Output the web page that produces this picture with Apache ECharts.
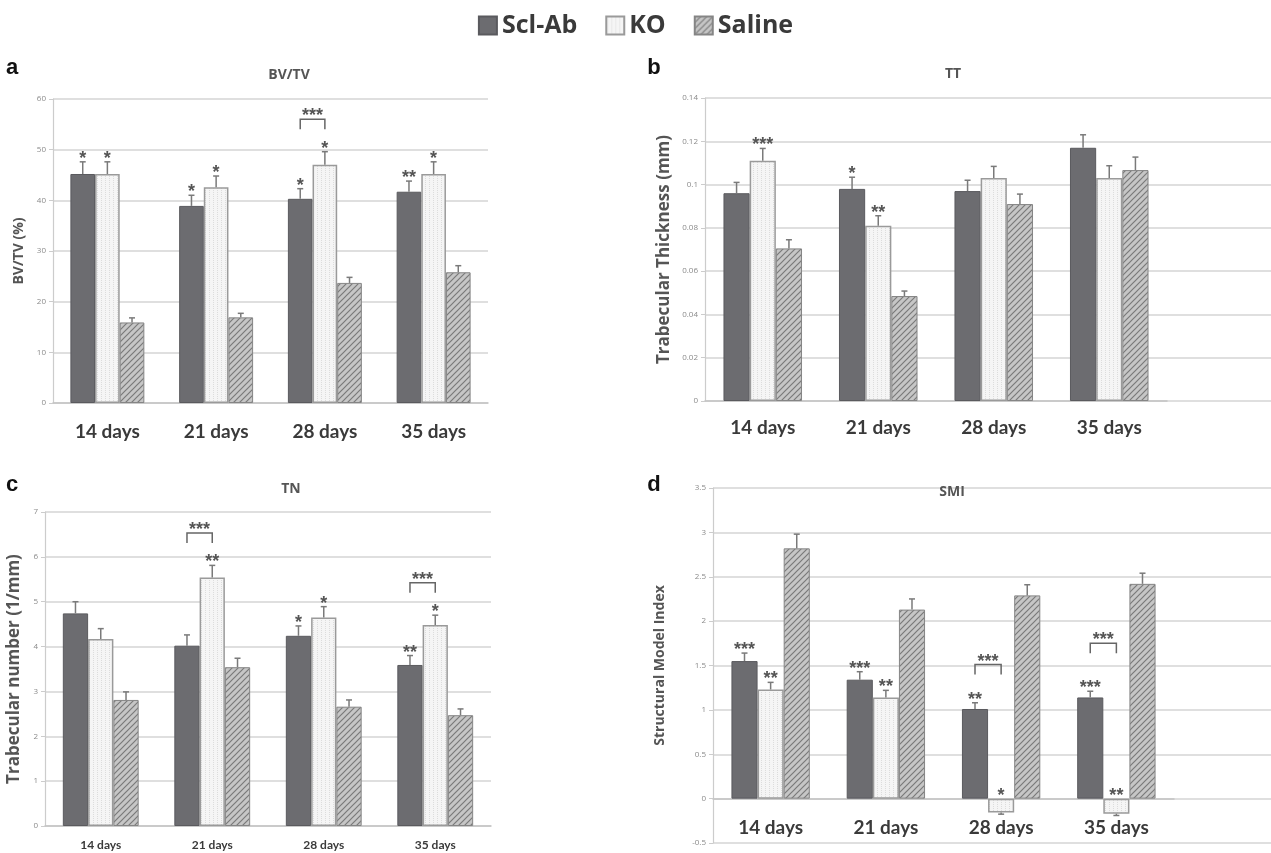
<!DOCTYPE html>
<html>
<head>
<meta charset="utf-8">
<script src="https://cdn.jsdelivr.net/npm/echarts@6/dist/echarts.min.js"></script>
<style>html,body{margin:0;padding:0;background:#fff}#c{width:1271px;height:853px}</style>
</head>
<body>
<div id="c"></div>
<script>
// ---------- DATA ----------
const categories = ['14 days', '21 days', '28 days', '35 days'];
const seriesNames = ['Scl-Ab', 'KO', 'Saline'];

// (a) BV/TV (%)
const bvtvScl = [45.2, 38.9, 40.3, 41.7];
const bvtvKO = [45.2, 42.6, 47.0, 45.2];
const bvtvSal = [15.9, 16.9, 23.7, 25.8];
const bvtvSclErr = [2.4, 2.1, 2.0, 2.1];
const bvtvKOErr = [2.4, 2.2, 2.6, 2.4];
const bvtvSalErr = [0.9, 0.8, 1.1, 1.3];
const bvtvSclSig = ['*', '*', '*', '**'];
const bvtvKOSig = ['*', '*', '*', '*'];
const bvtvBracketCat = [2];
const bvtvBracketTop = [56];

// (b) TT (mm)
const ttScl = [0.096, 0.098, 0.097, 0.117];
const ttKO = [0.111, 0.081, 0.103, 0.103];
const ttSal = [0.0705, 0.0485, 0.091, 0.1067];
const ttSclErr = [0.005, 0.0054, 0.005, 0.006];
const ttKOErr = [0.0057, 0.0046, 0.0054, 0.0057];
const ttSalErr = [0.004, 0.0023, 0.0046, 0.006];
const ttSclSig = ['', '*', '', ''];
const ttKOSig = ['***', '**', '', ''];
const ttBracketCat = [];
const ttBracketTop = [];

// (c) TN (1/mm)
const tnScl = [4.74, 4.02, 4.24, 3.59];
const tnKO = [4.17, 5.54, 4.65, 4.48];
const tnSal = [2.81, 3.54, 2.66, 2.47];
const tnSclErr = [0.26, 0.24, 0.22, 0.21];
const tnKOErr = [0.23, 0.27, 0.24, 0.22];
const tnSalErr = [0.18, 0.2, 0.15, 0.14];
const tnSclSig = ['', '', '*', '**'];
const tnKOSig = ['', '**', '*', '*'];
const tnBracketCat = [1, 3];
const tnBracketTop = [6.53, 5.42];

// (d) SMI
const smiScl = [1.55, 1.34, 1.01, 1.14];
const smiKO = [1.23, 1.14, -0.155, -0.17];
const smiSal = [2.82, 2.13, 2.29, 2.42];
const smiSclErr = [0.09, 0.09, 0.07, 0.07];
const smiKOErr = [0.08, 0.08, 0.02, 0.02];
const smiSalErr = [0.16, 0.12, 0.12, 0.12];
const smiSclSig = ['***', '***', '**', '***'];
const smiKOSig = ['**', '**', '*', '**'];
const smiBracketCat = [2, 3];
const smiBracketTop = [1.51, 1.75];

const bracketLabel = '***';

// ---------- STYLE ----------
const GAP = 0.32;
function hatchCanvas() {
  const c = document.createElement('canvas'); c.width = 6; c.height = 6;
  const g = c.getContext('2d');
  g.fillStyle = '#c6c6c6'; g.fillRect(0, 0, 6, 6);
  g.strokeStyle = '#7a7a7a'; g.lineWidth = 1.2;
  g.beginPath();
  g.moveTo(0, 6); g.lineTo(6, 0);
  g.moveTo(-1, 1); g.lineTo(1, -1);
  g.moveTo(5, 7); g.lineTo(7, 5);
  g.stroke();
  return c;
}
function dotCanvas() {
  const c = document.createElement('canvas'); c.width = 4; c.height = 4;
  const g = c.getContext('2d');
  g.fillStyle = '#f5f5f5'; g.fillRect(0, 0, 4, 4);
  g.fillStyle = '#dcdcdc'; g.fillRect(1, 0, 1, 1); g.fillRect(1, 2, 1, 1);
  return c;
}
const styles = [
  { color: '#6c6c70', borderColor: '#5a5a5e', borderWidth: 1 },
  { color: { image: dotCanvas(), repeat: 'repeat' }, borderColor: '#9a9a9a', borderWidth: 1.5 },
  { color: { image: hatchCanvas(), repeat: 'repeat' }, borderColor: '#858585', borderWidth: 1 }
];
const catFont = 'Lato';
const gridColor = '#d4d4d4';

const panels = [
  { vals: [bvtvScl, bvtvKO, bvtvSal], errs: [bvtvSclErr, bvtvKOErr, bvtvSalErr], sigs: [bvtvSclSig, bvtvKOSig, []],
    bc: bvtvBracketCat, bt: bvtvBracketTop,
    grid: { left: 53, top: 99, width: 435, height: 304 }, bg: null,
    y: { min: 0, max: 60, interval: 10 }, yName: 'BV/TV (%)', yNameSize: 14, yNameGap: 27,
    catSize: 19, catMargin: 19, labelsAtZero: false },
  { vals: [ttScl, ttKO, ttSal], errs: [ttSclErr, ttKOErr, ttSalErr], sigs: [ttSclSig, ttKOSig, []],
    bc: ttBracketCat, bt: ttBracketTop,
    grid: { left: 705, top: 98, width: 462, height: 303 }, bg: { left: 705, top: 98, width: 566, height: 303 },
    y: { min: 0, max: 0.14, interval: 0.02 }, yName: 'Trabecular Thickness (mm)', yNameSize: 17, yNameGap: 32,
    catSize: 19, catMargin: 17, labelsAtZero: false },
  { vals: [tnScl, tnKO, tnSal], errs: [tnSclErr, tnKOErr, tnSalErr], sigs: [tnSclSig, tnKOSig, []],
    bc: tnBracketCat, bt: tnBracketTop,
    grid: { left: 45, top: 512, width: 446, height: 314 }, bg: null,
    y: { min: 0, max: 7, interval: 1 }, yName: 'Trabecular number (1/mm)', yNameSize: 17, yNameGap: 22,
    catSize: 12, catMargin: 13, labelsAtZero: false },
  { vals: [smiScl, smiKO, smiSal], errs: [smiSclErr, smiKOErr, smiSalErr], sigs: [smiSclSig, smiKOSig, []],
    bc: smiBracketCat, bt: smiBracketTop,
    grid: { left: 713, top: 488, width: 461, height: 355 }, bg: { left: 713, top: 488, width: 558, height: 355 },
    y: { min: -0.5, max: 3.5, interval: 0.5 }, yName: 'Structural Model Index', yNameSize: 14, yNameGap: 46,
    catSize: 19, catMargin: 29, labelsAtZero: true }
];

const grids = [], xAxes = [], yAxes = [], series = [];
panels.forEach((p, i) => {
  grids.push(Object.assign({ outerBoundsMode: 'none', containLabel: false }, p.grid));
  xAxes.push({
    type: 'category', gridIndex: i,
    data: categories,
    axisLine: { onZero: true, lineStyle: { color: '#c4c4c4', width: 1.5 } },
    axisTick: { show: false },
    axisLabel: { show: !p.labelsAtZero, fontFamily: catFont, fontWeight: 'bold', fontSize: p.catSize, color: '#3a3a3a', margin: p.catMargin, interval: 0 }
  });
  yAxes.push({
    type: 'value', gridIndex: i, min: p.y.min, max: p.y.max, interval: p.y.interval,
    name: p.yName, nameLocation: 'middle', nameGap: p.yNameGap,
    nameTextStyle: { fontFamily: 'Open Sans', fontWeight: 'bold', fontSize: p.yNameSize, color: '#555' },
    axisLine: { show: true, lineStyle: { color: '#cccccc', width: 1.2 } },
    axisTick: { show: true, length: 4, lineStyle: { color: '#cccccc' } },
    axisLabel: { fontFamily: 'Open Sans', fontSize: 8, color: '#8a8a8a', margin: 7 },
    splitLine: { show: !p.bg, lineStyle: { color: gridColor, width: 1.5 } }
  });
  for (let s = 0; s < 3; s++) {
    series.push({
      type: 'bar', name: seriesNames[s], xAxisIndex: i, yAxisIndex: i,
      data: p.vals[s], barGap: '0%', barCategoryGap: (GAP * 100) + '%',
      itemStyle: styles[s], z: 2
    });
  }
  // error bars + significance stars
  const items = [];
  for (let s = 0; s < 3; s++) for (let k = 0; k < categories.length; k++) {
    items.push({ cat: k, s: s, val: p.vals[s][k], err: p.errs[s][k], sig: (p.sigs[s] && p.sigs[s][k]) || '' });
  }
  series.push({
    type: 'custom', xAxisIndex: i, yAxisIndex: i, z: 5, silent: true,
    data: items.map(it => [it.cat, it.val]),
    encode: { x: 0, y: 1 },
    renderItem: function (params, api) {
      const it = items[params.dataIndex];
      const band = api.size([1, 0])[0];
      const bw = band * (1 - GAP) / 3;
      const c = api.coord([it.cat, it.val]);
      const base = api.coord([it.cat, 0]);
      const x = c[0] + (it.s - 1) * bw;
      const dir = it.val >= 0 ? 1 : -1;
      const e = api.coord([it.cat, it.val + dir * it.err]);
      const ls = { stroke: '#7a7a7a', lineWidth: 1.5 };
      const ch = [
        { type: 'line', shape: { x1: x, y1: c[1], x2: x, y2: e[1] }, style: ls },
        { type: 'line', shape: { x1: x - 3, y1: e[1], x2: x + 3, y2: e[1] }, style: ls }
      ];
      if (it.sig) {
        const top = Math.min(e[1], base[1], c[1]);
        ch.push({ type: 'text', style: { text: it.sig, x: x, y: top - 3, textAlign: 'center', textVerticalAlign: 'middle',
          font: 'bold 18px "Liberation Sans"', fill: '#555' } });
      }
      return { type: 'group', children: ch };
    }
  });
  // brackets between Scl-Ab and KO
  if (p.bc.length) {
    series.push({
      type: 'custom', xAxisIndex: i, yAxisIndex: i, z: 5, silent: true,
      data: p.bc.map((c, j) => [c, p.bt[j]]),
      encode: { x: 0, y: 1 },
      renderItem: function (params, api) {
        const cat = api.value(0), v = api.value(1);
        const band = api.size([1, 0])[0];
        const bw = band * (1 - GAP) / 3;
        const pt = api.coord([cat, v]);
        const x0 = pt[0] - bw, x1 = pt[0], y = pt[1];
        return { type: 'group', children: [
          { type: 'polyline', shape: { points: [[x0, y + 10], [x0, y], [x1, y], [x1, y + 10]] },
            style: { stroke: '#666', lineWidth: 1.5, fill: null } },
          { type: 'text', style: { text: bracketLabel, x: (x0 + x1) / 2, y: y - 3, textAlign: 'center', textVerticalAlign: 'middle',
            font: 'bold 18px "Liberation Sans"', fill: '#555' } }
        ] };
      }
    });
  }
  // category labels drawn on the zero line (panel d)
  if (p.labelsAtZero) {
    series.push({
      type: 'custom', xAxisIndex: i, yAxisIndex: i, z: 6, silent: true,
      data: categories.map((c, k) => [k, 0]),
      encode: { x: 0, y: 1 },
      renderItem: function (params, api) {
        const pt = api.coord([api.value(0), 0]);
        return { type: 'text', style: { text: categories[params.dataIndex], x: pt[0], y: pt[1] + p.catMargin,
          textAlign: 'center', textVerticalAlign: 'middle', font: 'bold ' + p.catSize + 'px ' + catFont, fill: '#3a3a3a' } };
      }
    });
  }
});

// full-width background gridlines for the right-hand panels
panels.forEach((p, i) => {
  if (!p.bg) return;
  const gi = grids.length;
  grids.push(Object.assign({ outerBoundsMode: 'none', containLabel: false, z: 0 }, p.bg));
  xAxes.push({ type: 'value', gridIndex: gi, min: 0, max: 1, show: false });
  yAxes.push({ type: 'value', gridIndex: gi, min: p.y.min, max: p.y.max, interval: p.y.interval,
    axisLine: { show: false }, axisTick: { show: false }, axisLabel: { show: false },
    splitLine: { show: true, lineStyle: { color: gridColor, width: 1.5 } } });
});

const titleFont = 'bold 14px "Open Sans"';
const letterFont = 'bold 22px "Liberation Sans"';
const graphics = [
  { t: 'a', x: 12, y: 68, f: letterFont, c: '#111' },
  { t: 'b', x: 654, y: 68, f: letterFont, c: '#111' },
  { t: 'c', x: 12, y: 485, f: letterFont, c: '#111' },
  { t: 'd', x: 654, y: 485, f: letterFont, c: '#111' },
  { t: 'BV/TV', x: 289, y: 75, f: titleFont, c: '#555' },
  { t: 'TT', x: 953, y: 74, f: titleFont, c: '#555' },
  { t: 'TN', x: 291, y: 489, f: titleFont, c: '#555' },
  { t: 'SMI', x: 952, y: 492, f: titleFont, c: '#555' }
].map(g => ({ type: 'text', x: g.x, y: g.y, z: 10,
  style: { text: g.t, font: g.f, fill: g.c, textAlign: 'center', textVerticalAlign: 'middle' } }));

const chart = echarts.init(document.getElementById('c'), null, { renderer: 'canvas' });
chart.setOption({
  animation: false,
  backgroundColor: '#fff',
  legend: {
    data: seriesNames, top: 8, left: 'center', itemWidth: 18, itemHeight: 18, itemGap: 28,
    textStyle: { fontFamily: 'Open Sans', fontWeight: 'bold', fontSize: 25, color: '#3a3a3a' },
    icon: 'rect'
  },
  grid: grids, xAxis: xAxes, yAxis: yAxes, series: series, graphic: graphics
});
</script>
</body>
</html>
